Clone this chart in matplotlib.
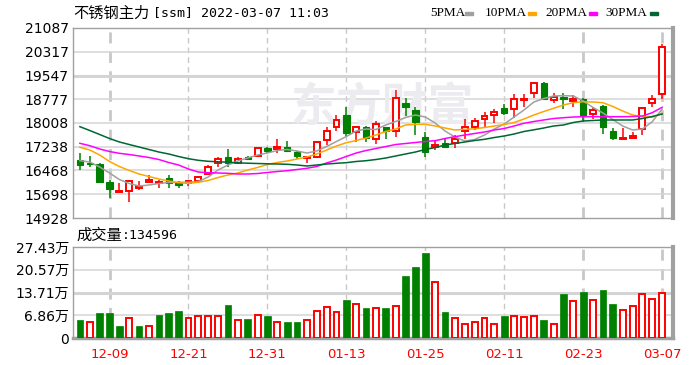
import matplotlib
matplotlib.use("Agg")
import matplotlib.pyplot as plt
from matplotlib.patches import Rectangle
import numpy as np

# trading days shown (Dec 2021 - Mar 2022)
dates = ['12-06', '12-07', '12-08', '12-09', '12-10', '12-13', '12-14', '12-15', '12-16', '12-17',
         '12-20', '12-21', '12-22', '12-23', '12-24', '12-27', '12-28', '12-29', '12-30', '12-31',
         '01-04', '01-05', '01-06', '01-07', '01-10', '01-11', '01-12', '01-13', '01-14', '01-17',
         '01-18', '01-19', '01-20', '01-21', '01-24', '01-25', '01-26', '01-27', '01-28', '02-07',
         '02-08', '02-09', '02-10', '02-11', '02-14', '02-15', '02-16', '02-17', '02-18', '02-21',
         '02-22', '02-23', '02-24', '02-25', '02-28', '03-01', '03-02', '03-03', '03-04', '03-07']
tick_labels = ['12-09', '12-21', '12-31', '01-13', '01-25', '02-11', '02-23', '03-07']

opens = [16808, 16720, 16680, 16105, 15770, 15800, 15910, 16110, 16050, 16210,
         16070, 16050, 16140, 16350, 16700, 16920, 16720, 16920, 16940, 17200,
         17170, 17240, 17080, 16860, 16900, 17460, 17890, 18270, 17730, 17890,
         17500, 17870, 17760, 18640, 18430, 17560, 17220, 17370, 17370, 17750,
         17890, 18130, 18270, 18480, 18450, 18760, 18970, 19290, 18760, 18860,
         18730, 18790, 18300, 18560, 17760, 17500, 17520, 17800, 18670, 18940]
highs = [17020, 16940, 16700, 16160, 16050, 16150, 16130, 16320, 16160, 16320,
         16140, 16160, 16290, 16650, 16900, 17150, 16900, 16950, 17200, 17240,
         17480, 17420, 17100, 16940, 17430, 17890, 18270, 18530, 17920, 17920,
         18080, 17870, 19080, 18810, 18540, 17730, 17430, 17500, 17620, 18130,
         18160, 18370, 18470, 18620, 18950, 18950, 19350, 19350, 18990, 18990,
         18910, 18810, 18520, 18590, 17850, 17840, 17730, 18520, 18910, 20570]
lows = [16500, 16590, 16100, 15590, 15770, 15460, 15840, 16105, 15890, 15890,
        15890, 15960, 16080, 16320, 16590, 16590, 16680, 16800, 16920, 17050,
        17040, 17080, 16840, 16700, 16860, 17290, 17760, 17570, 17400, 17400,
        17320, 17500, 17560, 18240, 17620, 16900, 17130, 17220, 17190, 17480,
        17790, 17890, 18020, 18270, 18160, 18520, 18810, 18780, 18670, 18450,
        18540, 18050, 18130, 17650, 17460, 17490, 17480, 17620, 18520, 18780]
closes = [16646, 16670, 16105, 15870, 15790, 16140, 15975, 16160, 16100, 16050,
          15990, 16120, 16250, 16570, 16830, 16700, 16850, 16850, 17190, 17110,
          17220, 17110, 16940, 16900, 17400, 17750, 18100, 17670, 17870, 17510,
          17970, 17760, 18810, 18530, 18050, 17080, 17300, 17220, 17480, 17870,
          18080, 18230, 18370, 18320, 18780, 18800, 19290, 18780, 18860, 18790,
          18780, 18270, 18430, 17870, 17510, 17520, 17580, 18480, 18780, 20480]

ma5 = [16786, 16743, 16581, 16387, 16176, 16046, 15965, 15998, 16046, 16079,
       16086, 16086, 16111, 16257, 16484, 16646, 16776, 16873, 16970, 17035,
       17116, 17148, 17100, 17035, 17100, 17245, 17408, 17570, 17748, 17813,
       17797, 17943, 18056, 18186, 18267, 18202, 18007, 17748, 17554, 17424,
       17473, 17618, 17813, 17975, 18202, 18429, 18688, 18801, 18883, 18893,
       18883, 18721, 18510, 18332, 18121, 17910, 17781, 17813, 18050, 18460]
ma10 = [17220, 17132, 16970, 16760, 16597, 16468, 16354, 16273, 16192, 16127,
        16072, 16053, 16086, 16144, 16241, 16322, 16387, 16484, 16565, 16662,
        16727, 16776, 16840, 16905, 17003, 17132, 17262, 17369, 17440, 17521,
        17618, 17732, 17813, 17943, 17965, 17965, 17910, 17845, 17781, 17803,
        17819, 17862, 17910, 17959, 18024, 18137, 18267, 18380, 18484, 18591,
        18666, 18698, 18688, 18666, 18543, 18396, 18267, 18212, 18192, 18322]
ma20 = [17349, 17272, 17165, 17083, 17025, 16986, 16938, 16889, 16824, 16727,
        16646, 16516, 16419, 16396, 16387, 16377, 16354, 16354, 16370, 16403,
        16435, 16461, 16500, 16539, 16597, 16711, 16808, 16922, 17035, 17116,
        17181, 17245, 17310, 17343, 17376, 17408, 17434, 17505, 17564, 17618,
        17667, 17716, 17781, 17829, 17910, 17998, 18056, 18105, 18153, 18179,
        18202, 18212, 18212, 18212, 18212, 18212, 18218, 18234, 18342, 18517]
ma30 = [17888, 17764, 17635, 17505, 17392, 17310, 17229, 17148, 17067, 17003,
        16921, 16850, 16798, 16766, 16750, 16737, 16717, 16704, 16695, 16685,
        16678, 16669, 16646, 16614, 16646, 16678, 16701, 16721, 16760, 16785,
        16824, 16873, 16938, 17003, 17067, 17148, 17213, 17294, 17343, 17392,
        17440, 17479, 17537, 17586, 17651, 17732, 17787, 17845, 17910, 17943,
        18024, 18072, 18089, 18105, 18105, 18105, 18105, 18153, 18218, 18299]

volume = [52800, 48700, 75100, 75100, 37600, 60900, 37600, 36500, 68000, 75100,
          81200, 60900, 65000, 67000, 65000, 98500, 52800, 55800, 68000, 65000,
          48700, 49700, 49700, 52800, 80200, 92400, 77100, 113700, 101500, 89300,
          91400, 89300, 97400, 186800, 214200, 256800, 168500, 77100, 60900, 43600,
          49700, 60900, 43600, 65000, 67000, 63900, 67000, 52800, 43600, 132000,
          112700, 138000, 115700, 144100, 101500, 85300, 97400, 132000, 118800, 134596]
vol_up = [0, 1, 0, 0, 0, 1, 0, 1, 0, 0,
          0, 1, 1, 1, 1, 0, 1, 0, 1, 0,
          1, 0, 0, 1, 1, 1, 1, 0, 1, 0,
          1, 0, 1, 0, 0, 0, 1, 0, 1, 1,
          1, 1, 1, 0, 1, 1, 1, 0, 1, 0,
          1, 0, 1, 0, 0, 1, 1, 1, 1, 1]

price_ticks = [14928, 15698, 16468, 17238, 18008, 18777, 19547, 20317, 21087]
vol_ticks = [0, 68600, 137100, 205700, 274300]
vol_tick_labels = ['0', '6.86万', '13.71万', '20.57万', '27.43万']

RED = '#ff0000'
GREEN = '#008000'
GRID = '#d4d4d4'
FRAME = '#a0a0a0'
CJK = ['Noto Sans CJK SC', 'DejaVu Sans']
MIXED = ['DejaVu Sans', 'Noto Sans CJK SC']

W, H = 700, 365
fig = plt.figure(figsize=(W / 100, H / 100), dpi=100)
ax = fig.add_axes([73 / W, 1 - 218 / H, 600 / W, 190 / H])
axv = fig.add_axes([73 / W, 1 - 338 / H, 600 / W, 91 / H])

x = np.arange(len(dates))
tick_pos = [dates.index(d) for d in tick_labels]

for a in (ax, axv):
    a.set_xlim(-0.7, 60.1)
    for sp in a.spines.values():
        sp.set_color(FRAME)
        sp.set_linewidth(1)
    a.spines['right'].set_linewidth(3)
    for k, p in enumerate(tick_pos):
        lw = 2 if k in (0, 6, 7) else 1
        a.axvline(p, color='#c8c8c8', lw=lw, ls=(0, (4, 3)), zorder=1)
axv.spines['bottom'].set_linewidth(2.5)

# price panel
ax.set_ylim(price_ticks[0], price_ticks[-1])
ax.set_yticks(price_ticks)
ax.set_yticklabels([str(t) for t in price_ticks])
ax.tick_params(axis='y', length=0, pad=3, labelsize=10)
ax.set_xticks([])
for t in price_ticks[1:-1]:
    ax.axhline(t, color=GRID, lw=2.2 if t == 19547 else 1.1, zorder=1)

ax.text(30.6, 18480, '东方财富', family=CJK, fontsize=33, fontweight='bold',
        color='#ececf0', ha='center', va='center', zorder=1)

for i in x:
    o, h, l, c = opens[i], highs[i], lows[i], closes[i]
    top, bot = max(o, c), min(o, c)
    if c >= o:
        ax.vlines(i, top, h, color=RED, lw=1.1, zorder=3)
        ax.vlines(i, l, bot, color=RED, lw=1.1, zorder=3)
        ax.add_patch(Rectangle((i - 0.3, bot), 0.6, max(top - bot, 20),
                               fc='white', ec=RED, lw=1.4, zorder=3))
    else:
        ax.vlines(i, l, h, color=GREEN, lw=1.1, zorder=3)
        ax.add_patch(Rectangle((i - 0.32, bot), 0.64, max(top - bot, 20),
                               fc=GREEN, ec=GREEN, lw=0.8, zorder=3))

ma_colors = ['#a0a0a0', '#ffa500', '#ff00ff', '#006633']
for ma, col in zip([ma5, ma10, ma20, ma30], ma_colors):
    ax.plot(x, ma, color=col, lw=1.1, zorder=4)

# volume panel
axv.set_ylim(0, vol_ticks[-1])
axv.set_yticks(vol_ticks)
axv.set_yticklabels(vol_tick_labels, family=MIXED)
axv.tick_params(axis='y', length=0, pad=3, labelsize=10)
for t in vol_ticks[1:-1]:
    axv.axhline(t, color=GRID, lw=2.2 if t == 137100 else 1.1, zorder=1)
for i in x:
    if vol_up[i]:
        axv.add_patch(Rectangle((i - 0.3, 0), 0.6, volume[i], fc='white', ec=RED, lw=1.4, zorder=3))
    else:
        axv.add_patch(Rectangle((i - 0.34, 0), 0.68, volume[i], fc=GREEN, ec=GREEN, lw=0.5, zorder=3))
axv.set_xticks(tick_pos)
axv.set_xticklabels(tick_labels, color=RED, fontsize=9.5)
axv.tick_params(axis='x', length=0, pad=7)

# header texts
ty = 1 - 13 / H
fig.text(73 / W, ty, '不锈钢主力', family=CJK, fontsize=11, va='center')
fig.text(153 / W, ty, '[ssm] 2022-03-07 11:03', family='DejaVu Sans Mono', fontsize=9.5, va='center')

legend = [('5PMA', 430, 465), ('10PMA', 485, 528), ('20PMA', 545, 589), ('30PMA', 605, 650)]
for (name, tx, mx), col in zip(legend, ma_colors):
    fig.text(tx / W, ty, name, family='Liberation Serif', fontsize=9.5, va='center')
    fig.add_artist(Rectangle((mx / W, 1 - 14.5 / H), 8 / W, 3 / H,
                             transform=fig.transFigure, color=col))

vy = 1 - 235.5 / H
fig.text(76 / W, vy, '成交量', family=CJK, fontsize=11, va='center')
fig.text(122 / W, vy, ':' + str(volume[-1]), family='DejaVu Sans Mono', fontsize=9.5, va='center')

fig.savefig('out.png', dpi=100)
